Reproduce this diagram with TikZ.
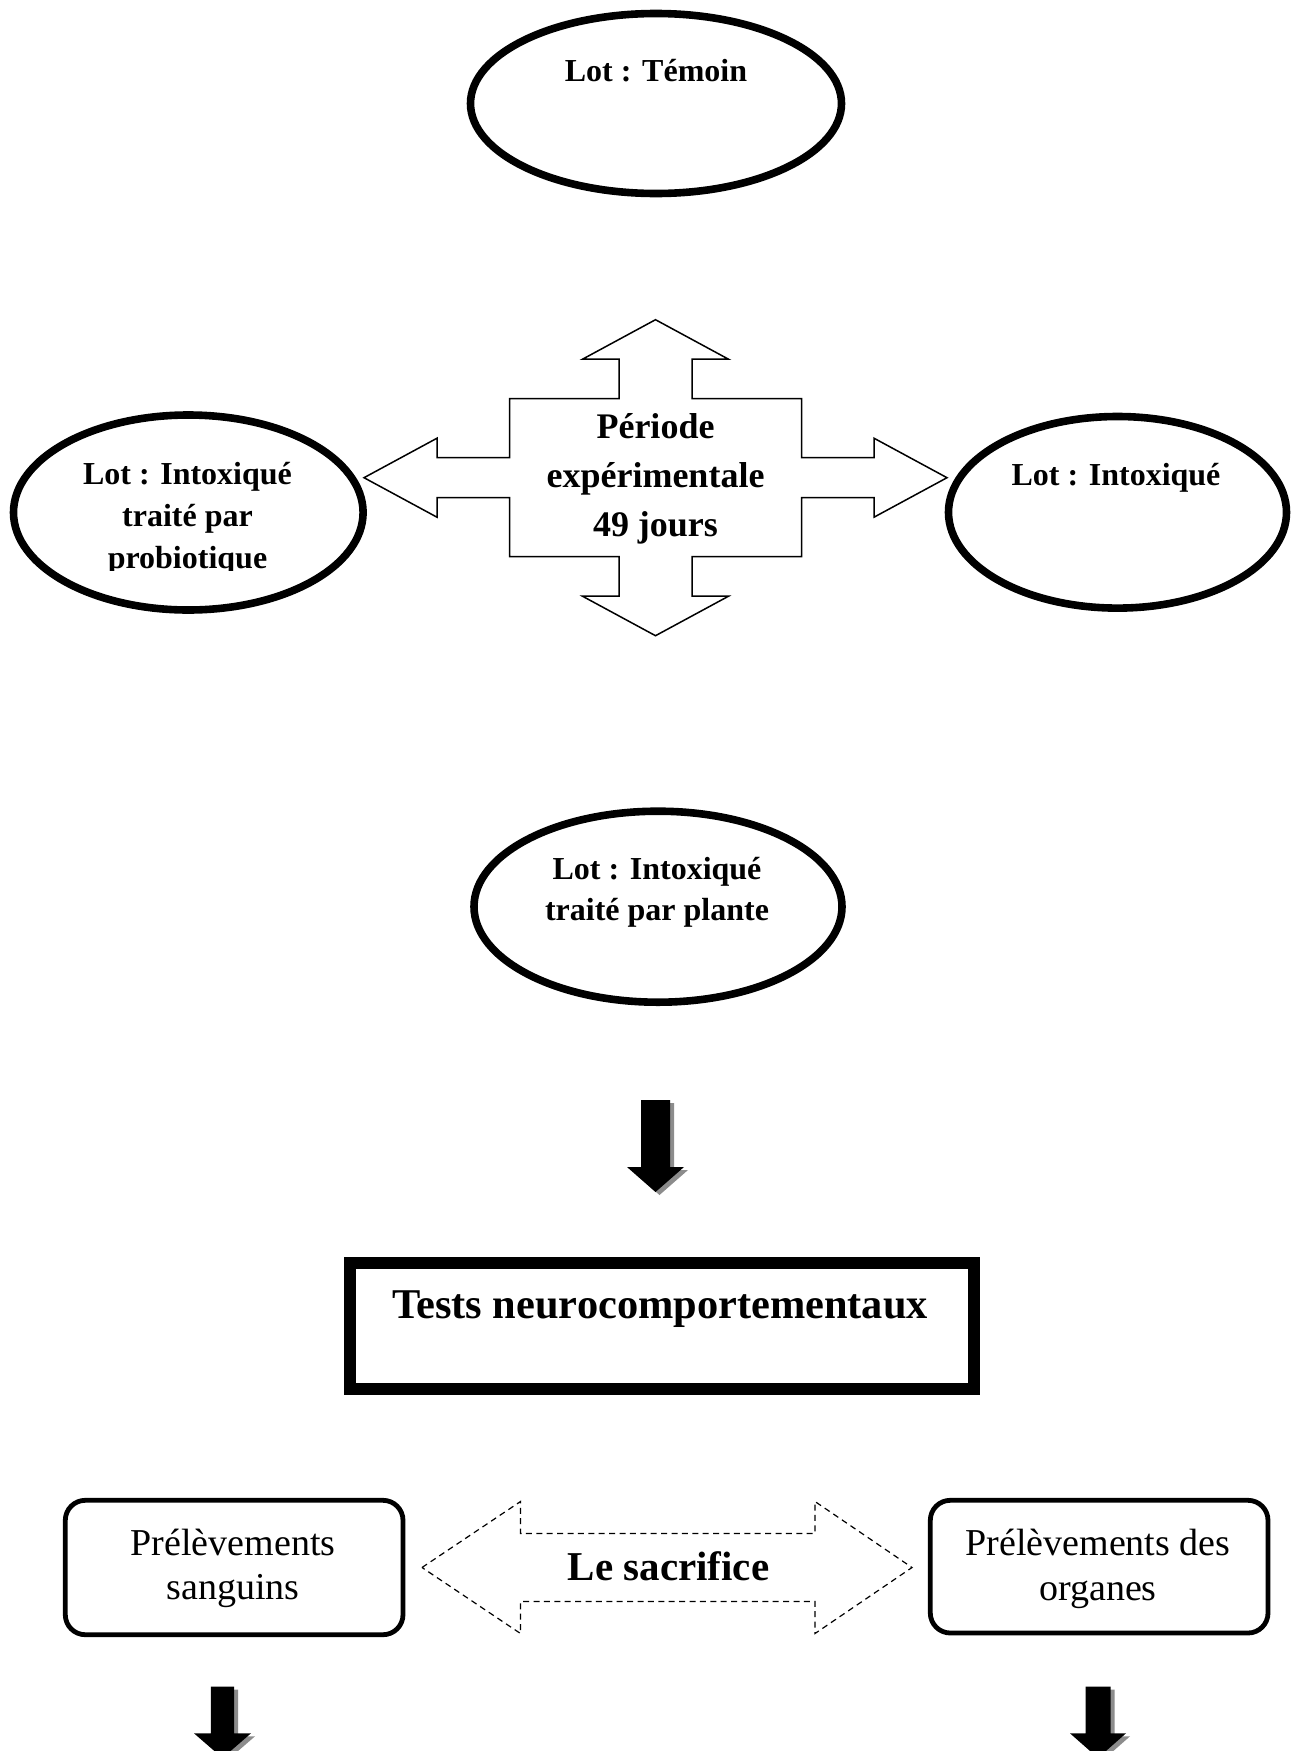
\documentclass[tikz,border=0pt]{standalone}
\usepackage{fontspec}
\setmainfont{Liberation Serif}
\usetikzlibrary{shapes.geometric}
\newcommand\stk[1]{\begin{tabular}[t]{@{}c@{}}#1\end{tabular}}
% cx, top, head base, tip, shaft half width, head half width
\newcommand\blockarrow[6]{%
  \fill[arrshadow,shift={(4,3)}] (#1-#5,#2) -- (#1+#5,#2) -- (#1+#5,#3) -- (#1+#6,#3) -- (#1,#4) -- (#1-#6,#3) -- (#1-#5,#3) -- cycle;
  \fill[black] (#1-#5,#2) -- (#1+#5,#2) -- (#1+#5,#3) -- (#1+#6,#3) -- (#1,#4) -- (#1-#6,#3) -- (#1-#5,#3) -- cycle;}
\begin{document}
\begin{tikzpicture}[x=0.5pt,y=-0.5pt,
  lot/.style={ellipse, draw, line width=3.8pt, inner sep=0pt, fill=white},
  ltxt/.style={anchor=base, inner sep=0pt, font=\bfseries\fontsize{16}{21}\selectfont},
  crosstxt/.style={anchor=base, inner sep=0pt, font=\bfseries\fontsize{18}{24.6}\selectfont},
  testbox/.style={draw, line width=6pt},
  prelbox/.style={draw, line width=2.4pt, rounded corners=10pt},
  prtxt/.style={anchor=base, inner sep=0pt, font=\fontsize{19}{22}\selectfont},
  arrshadow/.style={fill=black!45},
  crossarrow/.style={draw, line width=0.75pt, line join=miter},
  dasharrow/.style={draw, line width=0.6pt, dash pattern=on 3pt off 2.2pt}]
\useasboundingbox (0,0) rectangle (1292,1751);
\clip (0,0) rectangle (1292,1751);
\fill[white] (0,0) rectangle (1292,1751);

% central cross arrow
\coordinate (cc) at (655.5,477.7);
\draw[crossarrow,shift={(cc)}]
  (0,-158) -- (73,-118.5) -- (36.5,-118.5) -- (36.5,-79) -- (146,-79) -- (146,-20)
  -- (218.5,-20) -- (218.5,-39.5) -- (291.5,0) -- (218.5,39.5) -- (218.5,20) -- (146,20)
  -- (146,79) -- (36.5,79) -- (36.5,118.5) -- (73,118.5) -- (0,158) -- (-73,118.5)
  -- (-36.5,118.5) -- (-36.5,79) -- (-146,79) -- (-146,20) -- (-218.5,20) -- (-218.5,39.5)
  -- (-291.5,0) -- (-218.5,-39.5) -- (-218.5,-20) -- (-146,-20) -- (-146,-79) -- (-36.5,-79)
  -- (-36.5,-118.5) -- (-73,-118.5) -- cycle;
\node[crosstxt] (periode) at (655.5,438.3) {\stk{Période\\expérimentale\\49 jours}};

% ellipses
\node[lot, minimum width=185.5pt, minimum height=90pt] (temoin) at (656,103.5) {};
\node[ltxt] (temointxt) at (656,81) {Lot : Témoin};

\node[lot, minimum width=174.8pt, minimum height=97.5pt] (probio) at (188.3,512.5) {};
\begin{scope}
\clip (0,0) rectangle (1292,570);
\node[ltxt] (probiotxt) at (187.5,484) {\stk{Lot : Intoxiqué\\traité par\\probiotique}};
\end{scope}

\node[lot, minimum width=169pt, minimum height=95.8pt] (intox) at (1117.5,512.3) {};
\node[ltxt] (intoxtxt) at (1116,485) {Lot : Intoxiqué};

\node[lot, minimum width=184pt, minimum height=95.5pt] (plante) at (658,906.7) {};
\node[ltxt, font=\bfseries\fontsize{16}{20.4}\selectfont] (plantetxt) at (657,879.3) {\stk{Lot : Intoxiqué\\traité par plante}};

% down arrow to tests
\blockarrow{655.5}{1100}{1167}{1192}{14.5}{28.5}

% tests box
\draw[testbox] (349.7,1262.5) rectangle (974,1389);
\node[anchor=base, inner sep=0pt, font=\bfseries\fontsize{21.2}{24}\selectfont] (tests) at (660,1318.3) {Tests neurocomportementaux};

% bottom boxes
\draw[prelbox] (65.3,1500.3) rectangle (403,1634.7);
\node[prtxt] (sang) at (233,1555) {\stk{Prélèvements\\sanguins}};
\draw[prelbox] (930.3,1500.3) rectangle (1268,1633);
\node[prtxt, font=\fontsize{19}{22.5}\selectfont] (organes) at (1098,1555) {\stk{Prélèvements des\\organes}};

% dashed double arrow
\coordinate (sc) at (667,1567.5);
\draw[dasharrow,shift={(sc)}]
  (-245,0) -- (-146.5,-66) -- (-146.5,-34) -- (148,-34) -- (148,-66) -- (245,0)
  -- (148,66) -- (148,34) -- (-146.5,34) -- (-146.5,66) -- cycle;
\node[anchor=base, inner sep=0pt, font=\bfseries\fontsize{20.5}{24}\selectfont] (sacrifice) at (668.5,1580) {Le sacrifice};

% bottom arrows
\blockarrow{222.5}{1686.7}{1733.3}{1758}{11.7}{28.5}
\blockarrow{1098}{1686.7}{1733.3}{1758}{12.5}{28}
\end{tikzpicture}
\end{document}
